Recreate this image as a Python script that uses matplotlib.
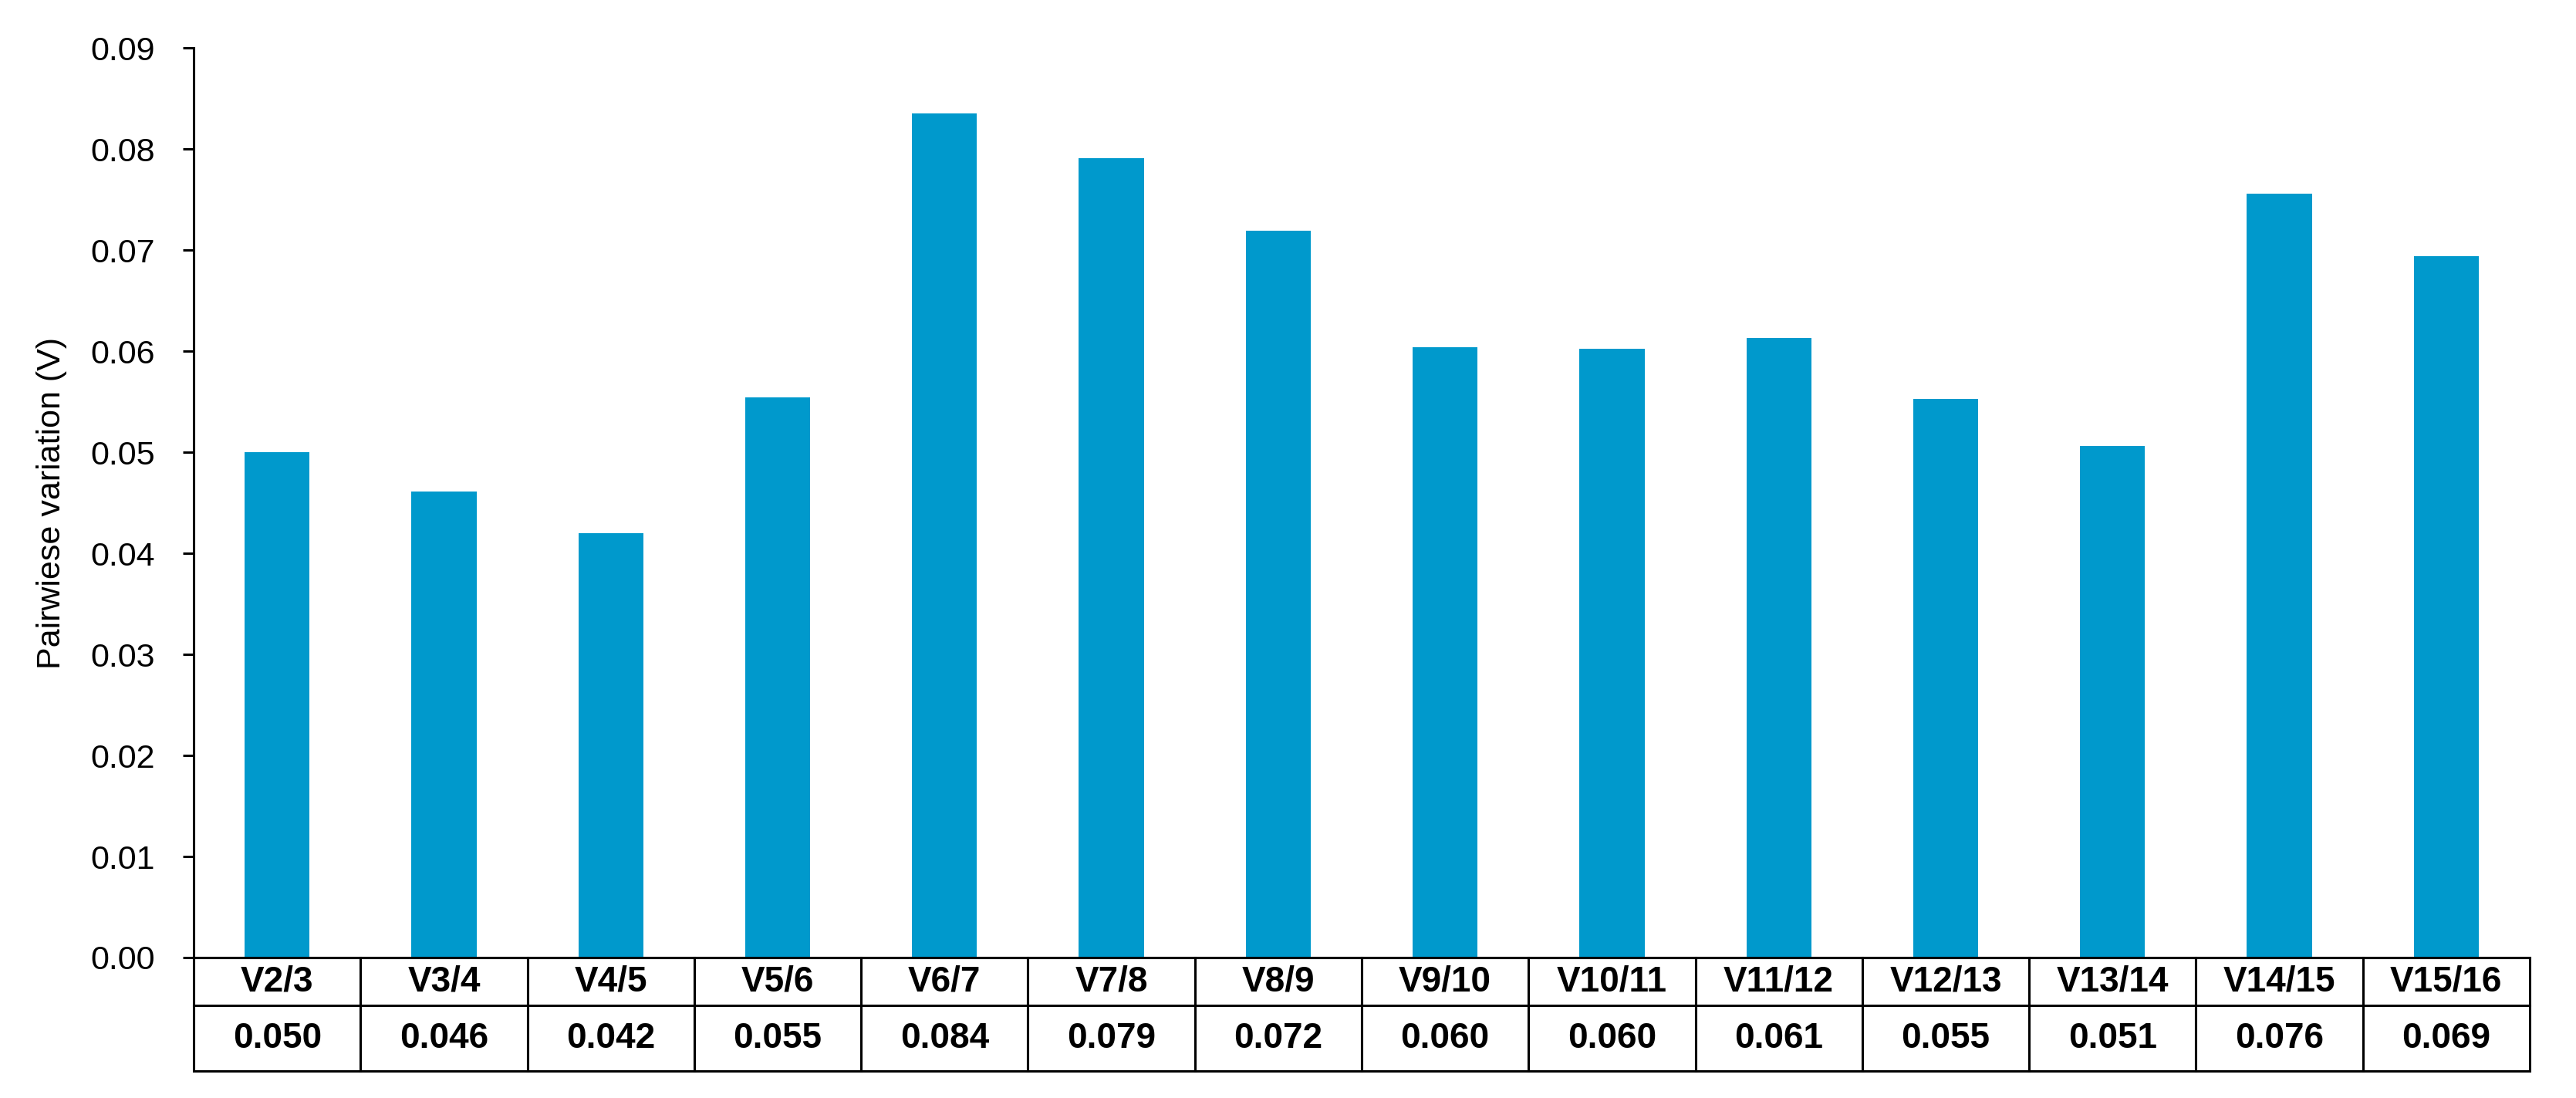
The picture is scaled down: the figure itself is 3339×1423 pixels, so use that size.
import matplotlib.pyplot as plt
import numpy as np

# data
pairs = ['V2/3', 'V3/4', 'V4/5', 'V5/6', 'V6/7', 'V7/8', 'V8/9', 'V9/10',
         'V10/11', 'V11/12', 'V12/13', 'V13/14', 'V14/15', 'V15/16']
values = [0.0500, 0.0461, 0.0420, 0.0554, 0.0835, 0.0791, 0.0719, 0.0604,
          0.0602, 0.0613, 0.0553, 0.0506, 0.0756, 0.0694]
value_labels = ['0.050', '0.046', '0.042', '0.055', '0.084', '0.079', '0.072',
                '0.060', '0.060', '0.061', '0.055', '0.051', '0.076', '0.069']
yticks = [0.00, 0.01, 0.02, 0.03, 0.04, 0.05, 0.06, 0.07, 0.08, 0.09]

plt.rcParams['font.family'] = ['Liberation Sans Narrow', 'Liberation Sans', 'DejaVu Sans']

fig = plt.figure(figsize=(33.39, 14.23), dpi=100)
ax = fig.add_axes([0.0752, 0.1279, 0.9068, 0.8285])

x = np.arange(len(pairs))
ax.bar(x, values, width=0.39, color='#0099CC')

ax.set_xlim(-0.5, len(pairs) - 0.5)
ax.set_ylim(0, 0.09)
ax.set_yticks(yticks)
ax.set_yticklabels(['%.2f' % t for t in yticks], fontsize=31)
ax.set_xticks([])
ax.set_ylabel('Pairwiese variation (V)', fontsize=31, labelpad=22)

ax.spines['top'].set_visible(False)
ax.spines['right'].set_visible(False)
ax.spines['left'].set_linewidth(2.2)
ax.spines['bottom'].set_linewidth(2.2)
ax.tick_params(axis='y', direction='out', length=10, width=2.2, pad=26)

# table below the bars
tbl = ax.table(cellText=[pairs, value_labels], cellLoc='center',
               bbox=[0, -0.1247, 1, 0.1247])
tbl.auto_set_font_size(False)
for (r, c), cell in tbl.get_celld().items():
    cell.set_linewidth(2.2)
    cell.set_height(62 if r == 0 else 85)
    cell.get_text().set_fontsize(33)
    cell.get_text().set_fontweight('bold')

fig.savefig('out.png', dpi=100)
